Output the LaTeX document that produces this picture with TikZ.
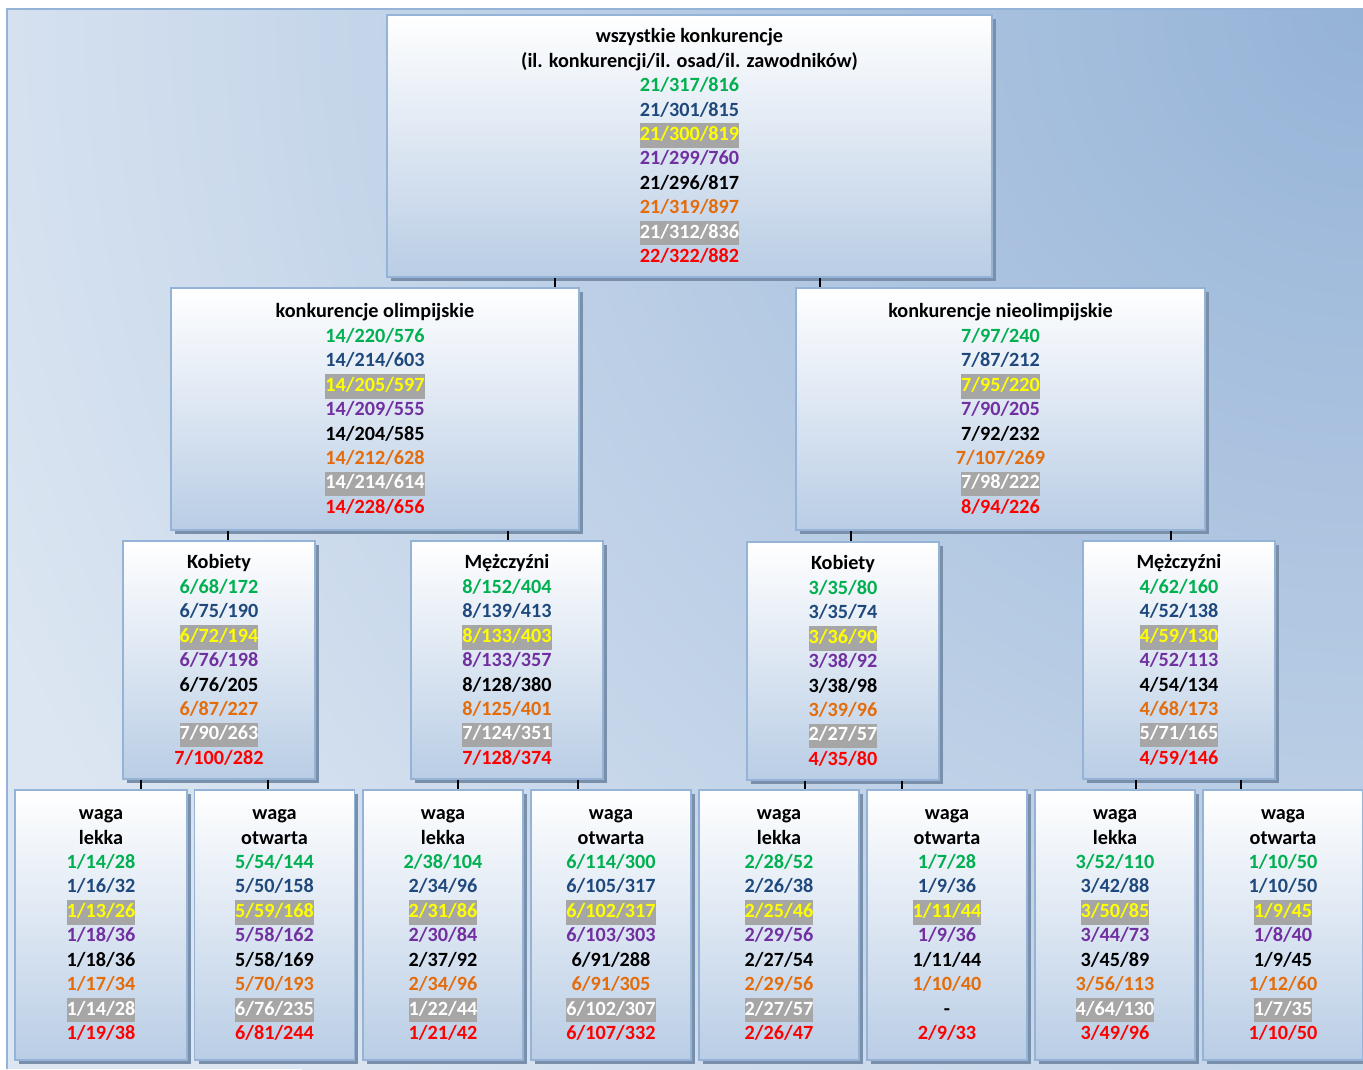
\documentclass[tikz,border=0pt]{standalone}
\usepackage{fontspec}
\setmainfont{Carlito}
\usetikzlibrary{shadows}

\definecolor{bglight}{HTML}{DCE6F2}
\definecolor{bgdark}{HTML}{95B3D7}
\definecolor{boxedge}{HTML}{95B3D7}
\definecolor{boxbot}{HTML}{B9CDE5}
\definecolor{shadowc}{HTML}{7A8FAA}
\definecolor{zielony}{HTML}{00B050}
\definecolor{granat}{HTML}{1F497D}
\definecolor{zolty}{HTML}{FFFF00}
\definecolor{fiolet}{HTML}{7030A0}
\definecolor{pomarancz}{HTML}{E46C0A}
\definecolor{czerwony}{HTML}{FF0000}
\definecolor{szary}{HTML}{A6A6A6}

\setlength{\fboxsep}{0pt}
\newcommand{\podkr}[2]{\colorbox{szary}{\strut\textcolor{#1}{#2}}}
\newcommand{\bialy}[1]{\def\tmpw{#1}\def\tmpd{-}\ifx\tmpw\tmpd -\else\podkr{white}{#1}\fi}
\newcommand{\wyniki}[8]{%
  \textcolor{zielony}{#1}\\
  \textcolor{granat}{#2}\\
  \podkr{zolty}{#3}\\
  \textcolor{fiolet}{#4}\\
  #5\\
  \textcolor{pomarancz}{#6}\\
  \bialy{#7}\\
  \textcolor{czerwony}{#8}}

\begin{document}
\begin{tikzpicture}[x=0.02cm,y=-0.02cm,
    box/.style={draw=boxedge,line width=1.1pt,top color=white,bottom color=boxbot,
      align=center,inner sep=0pt,font=\fontsize{11.5}{13.9}\selectfont\bfseries,
      drop shadow={fill=shadowc,opacity=1,shadow xshift=0.08cm,shadow yshift=-0.08cm}},
    szczyt/.style={box,minimum width=12.1cm,minimum height=5.24cm},
    grupa/.style={box,minimum width=8.18cm,minimum height=4.84cm},
    plec/.style={box,minimum width=3.84cm,minimum height=4.76cm},
    waga/.style={box,minimum width=3.2cm,minimum height=5.4cm}]
        \tikzset{link/.style = {line width=0.9pt,black}}
        \useasboundingbox (0,0) rectangle (1363,1069);
        \fill[white] (0,0) rectangle (1363,1069);
        \fill[bglight] (7,9) rectangle (1363,1069);
        \begin{scope}
          \clip (7,9) rectangle (1363,1069);
          \shade[inner color=bgdark,outer color=bglight] (1363,9) circle (1500);
        \end{scope}
        \draw[boxedge,line width=1.2pt] (7,1069) -- (7,9) -- (1363,9);

        \node[szczyt] (root) at (689.5,146) {wszystkie konkurencje\\(il. konkurencji/il. osad/il. zawodników)\\
          \wyniki{21/317/816}{21/301/815}{21/300/819}{21/299/760}{21/296/817}{21/319/897}{21/312/836}{22/322/882}};

        \node[grupa] (olimp) at (375,409) {konkurencje olimpijskie\\
          \wyniki{14/220/576}{14/214/603}{14/205/597}{14/209/555}{14/204/585}{14/212/628}{14/214/614}{14/228/656}};
        \node[grupa] (nieol) at (1000.5,409) {konkurencje nieolimpijskie\\
          \wyniki{7/97/240}{7/87/212}{7/95/220}{7/90/205}{7/92/232}{7/107/269}{7/98/222}{8/94/226}};

        \node[plec] (ko) at (219,660) {Kobiety\\
          \wyniki{6/68/172}{6/75/190}{6/72/194}{6/76/198}{6/76/205}{6/87/227}{7/90/263}{7/100/282}};
        \node[plec] (mo) at (507,660) {Mężczyźni\\
          \wyniki{8/152/404}{8/139/413}{8/133/403}{8/133/357}{8/128/380}{8/125/401}{7/124/351}{7/128/374}};
        \node[plec] (kn) at (843,661) {Kobiety\\
          \wyniki{3/35/80}{3/35/74}{3/36/90}{3/38/92}{3/38/98}{3/39/96}{2/27/57}{4/35/80}};
        \node[plec] (mn) at (1179,660) {Mężczyźni\\
          \wyniki{4/62/160}{4/52/138}{4/59/130}{4/52/113}{4/54/134}{4/68/173}{5/71/165}{4/59/146}};

        \node[waga,minimum width=3.44cm] (kol) at (101,925) {waga\\lekka\\
          \wyniki{1/14/28}{1/16/32}{1/13/26}{1/18/36}{1/18/36}{1/17/34}{1/14/28}{1/19/38}};
        \node[waga] (koo) at (274.5,925) {waga\\otwarta\\
          \wyniki{5/54/144}{5/50/158}{5/59/168}{5/58/162}{5/58/169}{5/70/193}{6/76/235}{6/81/244}};
        \node[waga] (mol) at (443,925) {waga\\lekka\\
          \wyniki{2/38/104}{2/34/96}{2/31/86}{2/30/84}{2/37/92}{2/34/96}{1/22/44}{1/21/42}};
        \node[waga] (moo) at (611,925) {waga\\otwarta\\
          \wyniki{6/114/300}{6/105/317}{6/102/317}{6/103/303}{6/91/288}{6/91/305}{6/102/307}{6/107/332}};
        \node[waga] (knl) at (779,925) {waga\\lekka\\
          \wyniki{2/28/52}{2/26/38}{2/25/46}{2/29/56}{2/27/54}{2/29/56}{2/27/57}{2/26/47}};
        \node[waga] (kno) at (947,925) {waga\\otwarta\\
          \wyniki{1/7/28}{1/9/36}{1/11/44}{1/9/36}{1/11/44}{1/10/40}{-}{2/9/33}};
        \node[waga] (mnl) at (1115,925) {waga\\lekka\\
          \wyniki{3/52/110}{3/42/88}{3/50/85}{3/44/73}{3/45/89}{3/56/113}{4/64/130}{3/49/96}};
        \node[waga] (mno) at (1283,925) {waga\\otwarta\\
          \wyniki{1/10/50}{1/10/50}{1/9/45}{1/8/40}{1/9/45}{1/12/60}{1/7/35}{1/10/50}};

        \foreach \a/\b/\x in {root/olimp/555, root/nieol/820,
            olimp/ko/228, olimp/mo/508, nieol/kn/851, nieol/mn/1171,
            ko/kol/141, ko/koo/268, mo/mol/458, mo/moo/578,
            kn/knl/805, kn/kno/902, mn/mnl/1136, mn/mno/1241}
          \draw[link] (\a.south -| \x,0) -- (\b.north -| \x,0);
\end{tikzpicture}
\end{document}
